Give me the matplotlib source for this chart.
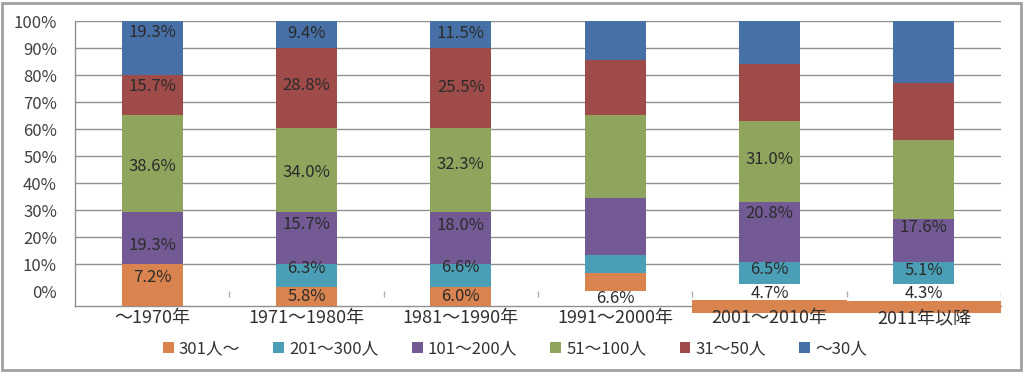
import matplotlib
matplotlib.use("Agg")
import matplotlib.pyplot as plt
import numpy as np
from matplotlib.patches import Rectangle, Patch

plt.rcParams['font.family'] = ['Noto Sans CJK JP', 'DejaVu Sans']

# ---------------- data ----------------
categories = ['〜1970年', '1971〜1980年', '1981〜1990年', '1991〜2000年', '2001〜2010年', '2011年以降']
series_names = ['301人〜', '201〜300人', '101〜200人', '51〜100人', '31〜50人', '〜30人']

# segment shares as drawn in the picture (%)
s301 = [15.5, 7.2, 7.2, 6.7, 4.7, 4.3]
s201 = [0.0, 8.3, 8.3, 6.6, 8.4, 8.4]
s101 = [19.1, 19.1, 19.2, 21.1, 22.1, 15.7]
s51 = [36.1, 31.4, 31.3, 30.8, 30.0, 29.3]
s31 = [14.8, 29.4, 29.6, 20.4, 20.9, 21.2]
s30 = [20.0, 10.1, 9.9, 14.4, 16.0, 22.8]

# printed data labels (%), None = no label
lab301 = [7.2, 5.8, 6.0, 6.6, 4.7, 4.3]
lab201 = [None, 6.3, 6.6, None, 6.5, 5.1]
lab101 = [19.3, 15.7, 18.0, None, 20.8, 17.6]
lab51 = [38.6, 34.0, 32.3, None, 31.0, None]
lab31 = [15.7, 28.8, 25.5, None, None, None]
lab30 = [19.3, 9.4, 11.5, None, None, None]

# ---------------- style / layout ----------------
colors = ['#D9834F', '#4A9FB6', '#735A94', '#8FA45C', '#9E4B49', '#4670A6']
ymin = -0.0545
# where each stack starts (fraction); orange of last two bars is drawn as a wide band below
stack_base = [ymin, ymin, ymin, 0.0, 0.026, 0.026]
band_cats = [4, 5]
band_bottom = -0.079
# per-label vertical nudge in pixels (up positive), rows follow series order
label_dy = [
    [8, 0, 0, 0, 0, 0],
    [0, 7, 8, 0, 3, 2],
    [-7.5, 14, 13, 0, 18, 13],
    [-3, -2, 5, 0, 2, 0],
    [8, 2, 0, 0, 0, 0],
    [15, 1, 1, 0, 0, 0],
]
outside_label = [False, False, False, True, True, True]

fig = plt.figure(figsize=(10.24, 3.72), dpi=100)
ax = fig.add_axes([75 / 1024, (372 - 306) / 372, 926 / 1024, 285 / 372])

x = np.arange(len(categories))
width = 0.395
series = [s301, s201, s101, s51, s31, s30]
labels = [lab301, lab201, lab101, lab51, lab31, lab30]

bottom = np.array(stack_base, dtype=float)
txtc = '#2b2b2b'
lfs = 12
for si, (vals, col) in enumerate(zip(series, colors)):
    h = np.array(vals) / 100.0
    for i in range(len(categories)):
        if si == 0 and i in band_cats:
            ax.bar(x[i], h[i], width=1.0, bottom=band_bottom, color=col, clip_on=False, zorder=4)
            lv = labels[si][i]
            ax.annotate(f'{lv:.1f}%', (x[i], bottom[i]), xytext=(0, -7), textcoords='offset points',
                        ha='center', va='center', fontsize=lfs, color=txtc, zorder=5)
            continue
        if h[i] <= 0:
            continue
        ax.bar(x[i], h[i], width=width, bottom=bottom[i], color=col, zorder=3)
        lv = labels[si][i]
        if lv is not None:
            if si == 0 and outside_label[i]:
                ax.annotate(f'{lv:.1f}%', (x[i], bottom[i]), xytext=(0, -5), textcoords='offset points',
                            ha='center', va='center', fontsize=lfs, color=txtc, zorder=5)
            else:
                ax.annotate(f'{lv:.1f}%', (x[i], bottom[i] + h[i] / 2),
                            xytext=(0, label_dy[si][i] * 0.72), textcoords='offset points',
                            ha='center', va='center', fontsize=lfs, color=txtc, zorder=5)
        bottom[i] += h[i]

ax.set_xlim(-0.5, len(categories) - 0.5)
ax.set_ylim(ymin, 1.0)
yt = np.arange(0, 1.01, 0.1)
ax.set_yticks(yt)
ax.set_yticklabels([f'{int(round(v * 100))}%' for v in yt], fontsize=12, color='#404040')
ax.tick_params(axis='y', length=0, pad=13)
ax.set_xticks(x)
ax.set_xticklabels([])
ax.tick_params(axis='x', length=0)
for i, c in enumerate(categories):
    ax.annotate(c, (x[i], ymin), xytext=(0, -8.5), textcoords='offset points', ha='center', va='center',
                fontsize=13, color='#303030', annotation_clip=False, zorder=6)

gridc = '#8f8f8f'
ax.grid(axis='y', color=gridc, lw=1, zorder=0)
ax.set_axisbelow(True)
ax.yaxis.get_gridlines()[0].set_visible(False)
for s in ['top', 'right']:
    ax.spines[s].set_visible(False)
for s in ['left', 'bottom']:
    ax.spines[s].set_color(gridc)
    ax.spines[s].set_linewidth(1)

# category boundary tick marks
ax.vlines(np.arange(len(categories)) + 0.5, -0.021, 0.0, color='#b0b0b0', lw=1, zorder=1)

handles = [Patch(facecolor=c, edgecolor='none') for c in colors]
fig.legend(handles, series_names, loc='center', bbox_to_anchor=(515 / 1024, 1 - 349 / 372),
           ncol=6, frameon=False, fontsize=12, handlelength=0.65, handleheight=0.65,
           handletextpad=0.3, columnspacing=2.0, labelcolor='#333333')

fig.patches.append(Rectangle((2 / 1024, 2 / 372), 1019 / 1024, 367 / 372, transform=fig.transFigure,
                             fill=False, edgecolor='#a0a0a0', lw=2))

fig.savefig('out.png', dpi=100, facecolor='white')
